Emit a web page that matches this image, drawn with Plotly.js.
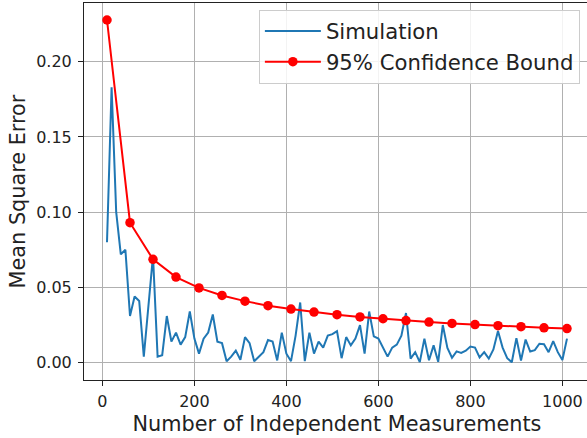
<!DOCTYPE html>
<html>
<head>
<meta charset="utf-8">
<script src="https://cdn.plot.ly/plotly-3.0.1.min.js"></script>
<style>
html,body{margin:0;padding:0;overflow:hidden;background:#fff;}
#chart{width:591px;height:438px;}
</style>
</head>
<body>
<div id="chart"></div>
<script>
const simN = [10,20,30,40,50,60,70,80,90,100,110,120,130,140,150,160,170,180,190,200,
  210,220,230,240,250,260,270,280,290,300,310,320,330,340,350,360,370,380,390,400,
  410,420,430,440,450,460,470,480,490,500,510,520,530,540,550,560,570,580,590,600,
  610,620,630,640,650,660,670,680,690,700,710,720,730,740,750,760,770,780,790,800,
  810,820,830,840,850,860,870,880,890,900,910,920,930,940,950,960,970,980,990,1000,1010];
const simMSE = [0.080,0.183,0.100,0.072,0.075,0.031,0.044,0.041,0.004,0.037,
  0.071,0.004,0.005,0.031,0.014,0.020,0.012,0.017,0.034,0.016,
  0.006,0.016,0.020,0.032,0.014,0.013,0.001,0.004,0.008,0.002,
  0.017,0.013,0.001,0.004,0.007,0.015,0.014,0.0015,0.020,0.006,
  0.001,0.018,0.040,0.001,0.020,0.006,0.014,0.010,0.018,0.019,
  0.021,0.003,0.017,0.0115,0.016,0.025,0.006,0.034,0.0175,0.016,
  0.0104,0.004,0.010,0.012,0.018,0.033,0.0027,0.007,0.0004,0.016,
  0.0016,0.0115,0.0006,0.025,0.0098,0.0033,0.0075,0.0065,0.008,0.0107,
  0.010,0.0035,0.007,0.0027,0.0088,0.021,0.010,0.003,0.0003,0.0163,
  0.0015,0.0154,0.0074,0.0083,0.0126,0.0123,0.007,0.0144,0.007,0.0018,0.016];
const boundN = [10,60,110,160,210,260,310,360,410,460,510,560,610,660,710,760,810,860,910,960,1010];
const boundMSE = [0.2277,0.0930,0.0687,0.0569,0.0497,0.0447,0.0409,0.0379,0.0356,0.0336,
  0.0319,0.0304,0.0292,0.0280,0.0270,0.0261,0.0253,0.0246,0.0239,0.0232,0.0227];
const xTicks = [0,200,400,600,800,1000];
const yTicks = [0.00,0.05,0.10,0.15,0.20];
const seriesNames = ['Simulation','95% Confidence Bound'];
const xTitle = 'Number of Independent Measurements';
const yTitle = 'Mean Square Error';

const font = 'DejaVu Sans, sans-serif';
const traces = [
  {x: simN, y: simMSE, name: seriesNames[0], type: 'scatter', mode: 'lines',
   line: {color: '#1f77b4', width: 2}},
  {x: boundN, y: boundMSE, name: seriesNames[1], type: 'scatter', mode: 'lines+markers',
   line: {color: '#ff0000', width: 2}, marker: {color: '#ff0000', size: 9.5}}
];
const axisCommon = {
  showline: true, mirror: true, linecolor: '#222', linewidth: 1,
  showgrid: true, gridcolor: '#b0b0b0', gridwidth: 1, zeroline: false,
  ticks: 'outside', ticklen: 5, tickwidth: 1, tickcolor: '#222',
  tickfont: {family: font, size: 16, color: '#222'}
};
const layout = {
  width: 591, height: 438,
  margin: {l: 84, r: 1, t: 3, b: 58},
  paper_bgcolor: '#fff', plot_bgcolor: '#fff',
  showlegend: true,
  legend: {x: 0.98, xanchor: 'right', y: 0.982, yanchor: 'top',
    itemwidth: 56,
    bgcolor: 'rgba(255,255,255,0.85)', bordercolor: '#cccccc', borderwidth: 1,
    font: {family: font, size: 21.2, color: '#222'}},
  xaxis: Object.assign({}, axisCommon, {
    range: [-40, 1060], tickvals: xTicks, ticktext: xTicks.map(String),
    title: {text: xTitle, font: {family: font, size: 20.8, color: '#222'}, standoff: 6},
    ticklabelstandoff: 2
  }),
  yaxis: Object.assign({}, axisCommon, {
    range: [-0.0115, 0.239], tickvals: yTicks, ticktext: yTicks.map(v => v.toFixed(2)),
    title: {text: yTitle, font: {family: font, size: 20.8, color: '#222'}, standoff: 4},
    ticklabelstandoff: 3
  })
};
Plotly.newPlot('chart', traces, layout, {displayModeBar: false, staticPlot: true});
</script>
</body>
</html>
